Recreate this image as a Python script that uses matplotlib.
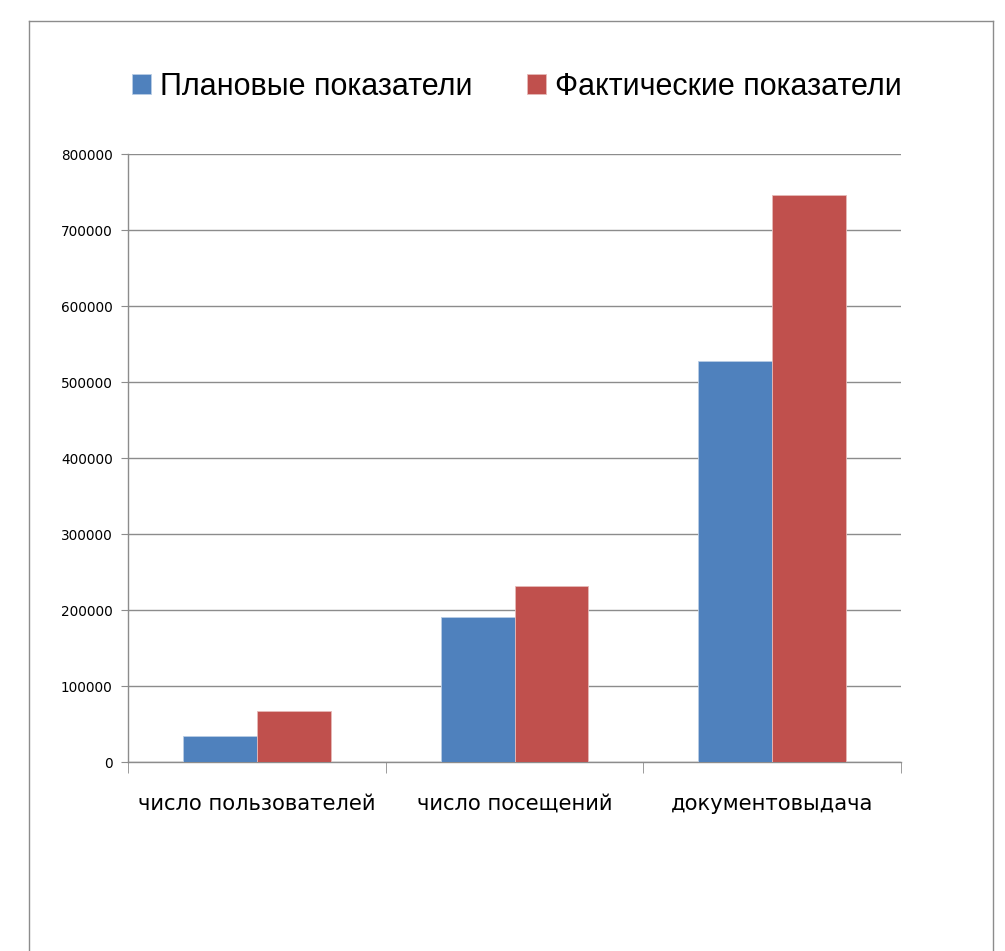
import matplotlib
matplotlib.use("Agg")
import matplotlib.pyplot as plt
from matplotlib.lines import Line2D
import numpy as np

categories = ["число пользователей", "число посещений", "документовыдача"]
plan_values = [34500, 191000, 528000]
fact_values = [67000, 232000, 746000]
series_names = ["Плановые показатели", "Фактические показатели"]
y_ticks = [0, 100000, 200000, 300000, 400000, 500000, 600000, 700000, 800000]

plt.rcParams['font.family'] = ['DejaVu Sans']

fig = plt.figure(figsize=(10.05, 9.51), dpi=100)
W, H = 1005, 951
ax = fig.add_axes([128 / W, 1 - 762 / H, 773 / W, 608 / H])

x = np.arange(len(categories))
w = 0.286
ax.bar(x - w / 2, plan_values, w, color="#4F81BD", edgecolor="#b9cde5", linewidth=0.6,
       label=series_names[0], zorder=3)
ax.bar(x + w / 2, fact_values, w, color="#C0504D", edgecolor="#e6b9b8", linewidth=0.6,
       label=series_names[1], zorder=3)

ax.set_xlim(-0.5, len(categories) - 0.5)
ax.set_ylim(0, 800000)
ax.set_yticks(y_ticks)
ax.set_yticklabels([str(v) for v in y_ticks], fontsize=9.8)
ax.yaxis.grid(True, color="#8c8c8c", linewidth=1.0, zorder=0)
ax.tick_params(axis="y", length=5, color="#8c8c8c", pad=6)

ax.set_xticks(x)
ax.set_xticklabels(categories, fontsize=15.2)
ax.tick_params(axis="x", which="major", length=0, pad=23)
ax.set_xticks(np.arange(-0.5, len(categories), 1.0), minor=True)
ax.tick_params(axis="x", which="minor", length=8, color="#8c8c8c")

for side in ["top", "right"]:
    ax.spines[side].set_visible(False)
for side in ["left", "bottom"]:
    ax.spines[side].set_color("#8c8c8c")
    ax.spines[side].set_linewidth(1.0)

leg = fig.legend(loc="center", bbox_to_anchor=(517 / W, 1 - 87 / H), ncol=2,
                 frameon=False, prop={"family": "Liberation Sans", "size": 22},
                 handlelength=0.62, handleheight=0.62,
                 handletextpad=0.3, columnspacing=1.8)

# outer chart frame
frame_kw = dict(color="#8c8c8c", linewidth=1.0, transform=fig.transFigure)
fig.add_artist(Line2D([29 / W, 29 / W], [0, 1 - 21 / H], **frame_kw))
fig.add_artist(Line2D([993 / W, 993 / W], [0, 1 - 21 / H], **frame_kw))
fig.add_artist(Line2D([29 / W, 993 / W], [1 - 21 / H, 1 - 21 / H], **frame_kw))

fig.savefig("out.png", dpi=100)
